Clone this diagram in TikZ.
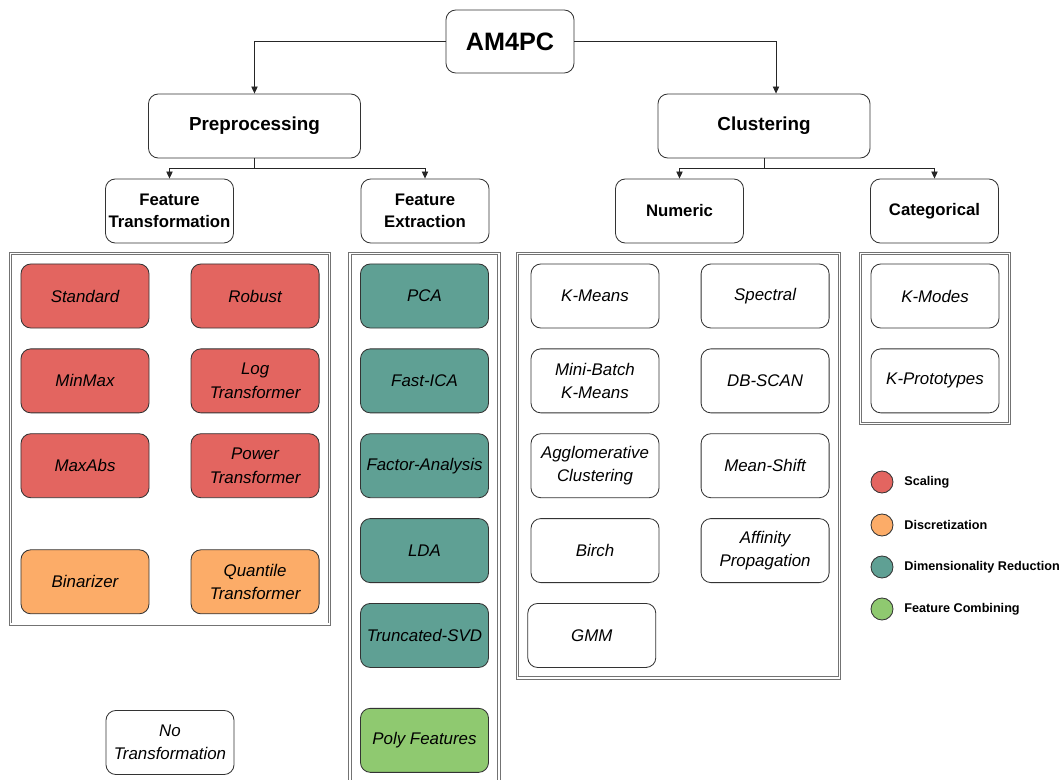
\documentclass[tikz,border=0pt]{standalone}
\usepackage{fontspec}
\setmainfont{Liberation Sans}
\usepackage{xcolor}
\usetikzlibrary{shapes,arrows.meta,positioning,fit,calc}

\definecolor{scalered}{HTML}{E36560}
\definecolor{discorange}{HTML}{FCAC68}
\definecolor{dimteal}{HTML}{5FA094}
\definecolor{combgreen}{HTML}{8FC970}

\begin{document}
\begin{tikzpicture}[
    x=0.025cm, y=-0.025cm,
    node distance=0.5cm and 1.03cm,
    box/.style={rectangle, draw=black!80, line width=0.6pt, rounded corners=7pt, align=center, minimum width=3.2cm, minimum height=1.6cm, inner sep=2pt},
    method/.style={box, font=\fontsize{12}{16.6}\selectfont\itshape},
    stage/.style={box, minimum width=5.3cm, font=\fontsize{13.4}{16}\selectfont\bfseries},
    family/.style={box, font=\fontsize{11.9}{16.1}\selectfont\bfseries},
    group/.style={draw=black!55, line width=0.6pt, double=white, double distance=1.1pt, inner sep=0.25cm},
    arrow/.style={-{Triangle[length=5pt,width=4.5pt]}, line width=0.6pt, draw=black!85},
    legdot/.style={circle, draw=black!80, line width=0.6pt, minimum size=0.55cm, inner sep=0pt},
    legtext/.style={font=\fontsize{9}{11}\selectfont\bfseries, anchor=west}
]
\useasboundingbox (0,0) rectangle (1063,780);

% Top levels
\node[box, font=\fontsize{17.9}{20}\selectfont\bfseries, minimum height=1.575cm] (am4pc) at (510,41.5) {AM4PC};
\node[stage] (prep) at (254.5,126) {Preprocessing};
\node[stage] (clust) at (764,126) {Clustering};

\node[family] (ftrans) at (169.5,211) {Feature\\Transformation};
\node[family] (fext) at (425,211) {Feature\\Extraction};
\node[family] (numeric) at (679.5,211) {Numeric};
\node[family] (categ) at (934.5,211) {Categorical};

% Feature transformation
\node[method, fill=scalered] (standard) at (85,296) {Standard};
\node[method, fill=scalered, right=of standard] (robust) {Robust};
\node[method, fill=scalered, below=of standard] (minmax) {MinMax};
\node[method, fill=scalered, below=of robust] (logtr) {Log\\Transformer};
\node[method, fill=scalered, below=of minmax] (maxabs) {MaxAbs};
\node[method, fill=scalered, below=of logtr] (powtr) {Power\\Transformer};
\node[method, fill=discorange, below=1.28cm of maxabs] (binar) {Binarizer};
\node[method, fill=discorange, below=1.28cm of powtr] (quant) {Quantile\\Transformer};
\node[method] (notrans) at (170,742.5) {No\\Transformation};

% Feature extraction
\node[method, fill=dimteal] (pca) at (424.5,296) {PCA};
\node[method, fill=dimteal, below=of pca] (fastica) {Fast-ICA};
\node[method, fill=dimteal, below=of fastica] (factor) {Factor-Analysis};
\node[method, fill=dimteal, below=of factor] (lda) {LDA};
\node[method, fill=dimteal, below=of lda] (tsvd) {Truncated-SVD};
\node[method, fill=combgreen, below=1.0cm of tsvd] (poly) {Poly Features};

% Numeric clustering
\node[method] (kmeans) at (595,296) {K-Means};
\node[method, right=of kmeans] (spectral) {Spectral};
\node[method, below=of kmeans] (minibatch) {Mini-Batch\\K-Means};
\node[method, below=of spectral] (dbscan) {DB-SCAN};
\node[method, below=of minibatch] (agglo) {Agglomerative\\Clustering};
\node[method, below=of dbscan] (meanshift) {Mean-Shift};
\node[method, below=of agglo] (birch) {Birch};
\node[method, below=of meanshift] (affinity) {Affinity\\Propagation};
\node[method, below=of birch, xshift=-0.08cm] (gmm) {GMM};

% Categorical clustering
\node[method] (kmodes) at (935,296) {K-Modes};
\node[method, below=of kmodes] (kproto) {K-Prototypes};

% Groups
\node[group, fit=(standard)(quant)] (ftgroup) {};
\node[group, fit=(pca)(poly)] (fegroup) {};
\node[group, fit=(kmeans)(gmm)(spectral)] (numgroup) {};
\node[group, fit=(kmodes)(kproto)] (catgroup) {};

% Legend
\node[legdot, fill=scalered] (legscale) at (882,482) {};
\node[legdot, fill=discorange] (legdisc) at (882,525) {};
\node[legdot, fill=dimteal] (legdim) at (882,567) {};
\node[legdot, fill=combgreen] (legcomb) at (882,609) {};
\node[legtext, right=0.15cm of legscale] {Scaling};
\node[legtext, right=0.15cm of legdisc] {Discretization};
\node[legtext, right=0.15cm of legdim] {Dimensionality Reduction};
\node[legtext, right=0.15cm of legcomb] {Feature Combining};

% Arrows
\coordinate (prepsplit) at ($(prep.south)+(0,10)$);
\coordinate (clustsplit) at ($(clust.south)+(0,10)$);
\draw[arrow] (am4pc.west) -| (prep.north);
\draw[arrow] (am4pc.east) -| ([xshift=0.3cm]clust.north);
\draw[arrow] (prep.south) -- (prepsplit) -| (ftrans.north);
\draw[arrow] (prepsplit) -| (fext.north);
\draw[arrow] (clust.south) -- (clustsplit) -| (numeric.north);
\draw[arrow] (clustsplit) -| (categ.north);

\end{tikzpicture}
\end{document}
